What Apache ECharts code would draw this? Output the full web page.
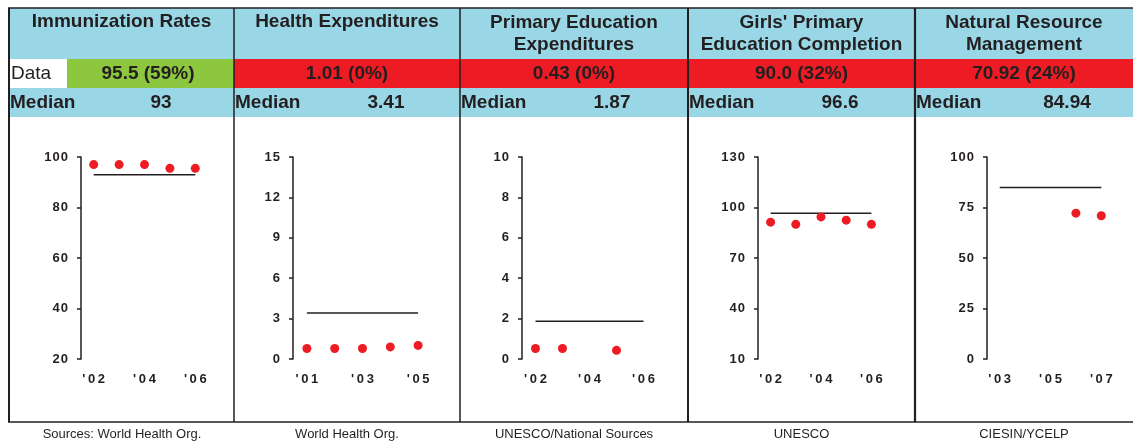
<!DOCTYPE html>
<html>
<head>
<meta charset="utf-8">
<script src="https://cdn.jsdelivr.net/npm/echarts@6/dist/echarts.min.js"></script>
<style>
html,body{margin:0;padding:0;background:#fff;}
#chart{width:1133px;height:445px;}
</style>
</head>
<body>
<div id="chart"></div>
<script>
// ---------- data ----------
const panelTitles = [
  ['Immunization Rates'],
  ['Health Expenditures'],
  ['Primary Education', 'Expenditures'],
  ["Girls' Primary", 'Education Completion'],
  ['Natural Resource', 'Management']
];
const dataTexts = ['95.5 (59%)', '1.01 (0%)', '0.43 (0%)', '90.0 (32%)', '70.92 (24%)'];
const medianTexts = ['93', '3.41', '1.87', '96.6', '84.94'];
const sources = ['Sources: World Health Org.', 'World Health Org.', 'UNESCO/National Sources', 'UNESCO', 'CIESIN/YCELP'];

const years1 = ["'02", "'03", "'04", "'05", "'06"];
const years2 = ["'01", "'02", "'03", "'04", "'05"];
const years3 = ["'02", "'03", "'04", "'05", "'06"];
const years4 = ["'02", "'03", "'04", "'05", "'06"];
const years5 = ["'03", "'04", "'05", "'06", "'07"];

const immunization = [97, 97, 97, 95.5, 95.5];
const healthExp = [0.78, 0.78, 0.78, 0.9, 1.01];
const primaryEduExp = [0.52, 0.52, null, 0.43, null];
const girlsCompletion = [91.3, 90.0, 94.4, 92.5, 90.0];
const naturalResource = [null, null, null, 72.2, 70.92];

const medians = [93, 3.41, 1.87, 96.6, 84.94];

const yTicks1 = [20, 40, 60, 80, 100];
const yTicks2 = [0, 3, 6, 9, 12, 15];
const yTicks3 = [0, 2, 4, 6, 8, 10];
const yTicks4 = [10, 40, 70, 100, 130];
const yTicks5 = [0, 25, 50, 75, 100];

// ---------- layout / style ----------
const FONT = '"Liberation Sans", Arial, sans-serif';
const DARK = '#231f20';
const BLUE = '#99d7e6';
const RED = '#ed1c24';
const GREEN = '#8dc63f';
const edges = [9, 234, 460, 688, 915, 1133];
const dividerW = [2, 1.5, 1.5, 2, 2.2];
const grids = [
  {left: 81, width: 127},
  {left: 293, width: 139},
  {left: 522, width: 135},
  {left: 758, width: 126},
  {left: 987, width: 127}
];
const yearSets = [years1, years2, years3, years4, years5];
const seriesSets = [immunization, healthExp, primaryEduExp, girlsCompletion, naturalResource];
const tickSets = [yTicks1, yTicks2, yTicks3, yTicks4, yTicks5];

const chart = echarts.init(document.getElementById('chart'), null, {renderer: 'canvas'});

const HF = 'bold 19px ' + FONT;
const graphic = [];
// background rows
graphic.push({type: 'rect', shape: {x: 9, y: 8, width: 1124, height: 51}, style: {fill: BLUE}, z: 0});
graphic.push({type: 'rect', shape: {x: 9, y: 88, width: 1124, height: 29}, style: {fill: BLUE}, z: 0});
// data row cells
graphic.push({type: 'rect', shape: {x: 9, y: 59, width: 58, height: 29}, style: {fill: '#fff'}, z: 0});
graphic.push({type: 'rect', shape: {x: 67, y: 59, width: 167, height: 29}, style: {fill: GREEN}, z: 0});
graphic.push({type: 'rect', shape: {x: 234, y: 59, width: 899, height: 29}, style: {fill: RED}, z: 0});
// borders
graphic.push({type: 'line', shape: {x1: 8, y1: 8, x2: 1133, y2: 8}, style: {stroke: DARK, lineWidth: 1.5}, z: 5});
graphic.push({type: 'line', shape: {x1: 8, y1: 422, x2: 1133, y2: 422}, style: {stroke: DARK, lineWidth: 1.5}, z: 5});
for (let i = 0; i < 5; i++) {
  graphic.push({type: 'line', shape: {x1: edges[i], y1: 8, x2: edges[i], y2: 422}, style: {stroke: DARK, lineWidth: dividerW[i]}, z: 5});
}
// texts
for (let i = 0; i < 5; i++) {
  const L = edges[i], R = edges[i + 1];
  const cx = (L + R) / 2;
  const t = panelTitles[i];
  if (t.length === 1) {
    graphic.push({type: 'text', x: cx, y: 22, style: {text: t[0], font: HF, fill: DARK, align: 'center', verticalAlign: 'middle'}, z: 6});
  } else {
    graphic.push({type: 'text', x: cx, y: 23, style: {text: t[0], font: HF, fill: DARK, align: 'center', verticalAlign: 'middle'}, z: 6});
    graphic.push({type: 'text', x: cx, y: 45, style: {text: t[1], font: HF, fill: DARK, align: 'center', verticalAlign: 'middle'}, z: 6});
  }
  const dx = i === 0 ? 148 : cx;
  graphic.push({type: 'text', x: dx, y: 74, style: {text: dataTexts[i], font: HF, fill: DARK, align: 'center', verticalAlign: 'middle'}, z: 6});
  graphic.push({type: 'text', x: L + 1, y: 103, style: {text: 'Median', font: HF, fill: DARK, align: 'left', verticalAlign: 'middle'}, z: 6});
  graphic.push({type: 'text', x: L + 152, y: 103, style: {text: medianTexts[i], font: HF, fill: DARK, align: 'center', verticalAlign: 'middle'}, z: 6});
  graphic.push({type: 'text', x: i === 0 ? 122 : cx, y: 434, style: {text: sources[i], font: '13px ' + FONT, fill: DARK, align: 'center', verticalAlign: 'middle'}, z: 6});
}
graphic.push({type: 'text', x: 11, y: 74, style: {text: 'Data', font: '19px ' + FONT, fill: DARK, align: 'left', verticalAlign: 'middle'}, z: 6});

const option = {
  animation: false,
  backgroundColor: '#fff',
  graphic: graphic,
  grid: grids.map(g => ({left: g.left, width: g.width, top: 157, height: 202, containLabel: false})),
  xAxis: yearSets.map((ys, i) => ({
    gridIndex: i,
    type: 'category',
    data: ys,
    boundaryGap: true,
    axisLine: {show: false},
    axisTick: {show: false},
    splitLine: {show: false},
    axisLabel: {
      interval: 1,
      margin: 14,
      fontSize: 13,
      fontWeight: 'bold',
      fontFamily: FONT,
      color: DARK,
      formatter: v => v.split('').join('\u2009')
    }
  })),
  yAxis: tickSets.map((ticks, i) => ({
    gridIndex: i,
    type: 'value',
    min: ticks[0],
    max: ticks[ticks.length - 1],
    axisLine: {show: true, lineStyle: {color: DARK, width: 1.5}},
    axisTick: {show: true, length: 4, inside: false, lineStyle: {color: DARK, width: 1.5}, customValues: ticks},
    splitLine: {show: false},
    axisLabel: {
      margin: 13,
      fontSize: 13,
      fontWeight: 'bold',
      fontFamily: FONT,
      color: DARK,
      customValues: ticks,
      showMinLabel: true,
      showMaxLabel: true,
      formatter: v => String(v).split('').join('\u200A')
    }
  })),
  series: []
};

for (let i = 0; i < 5; i++) {
  option.series.push({
    type: 'line',
    xAxisIndex: i,
    yAxisIndex: i,
    data: yearSets[i].map(() => medians[i]),
    showSymbol: false,
    symbol: 'none',
    lineStyle: {color: DARK, width: 1.5},
    z: 2,
    silent: true
  });
  option.series.push({
    type: 'scatter',
    xAxisIndex: i,
    yAxisIndex: i,
    data: seriesSets[i],
    symbol: 'circle',
    symbolSize: 9,
    itemStyle: {color: RED, opacity: 1},
    z: 3
  });
}

chart.setOption(option);
</script>
</body>
</html>
